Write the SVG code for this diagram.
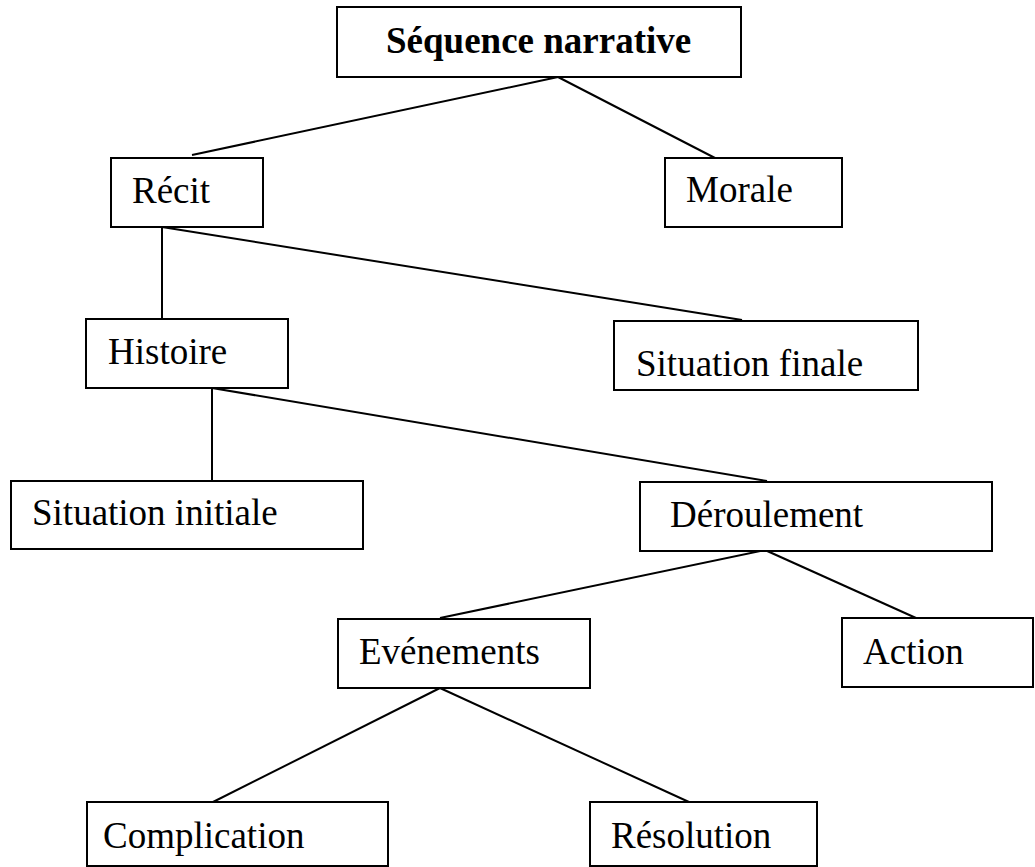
<svg xmlns="http://www.w3.org/2000/svg" width="1035" height="867" viewBox="0 0 1035 867">
<style>
.box{fill:#fff;stroke:#000;stroke-width:2}
.lbl{font-family:"Liberation Serif","Times New Roman",serif;font-size:37px;fill:#000}
.bold{font-weight:bold}
.con line{stroke:#000;stroke-width:2}
</style>
<rect width="1035" height="867" fill="#fff"/>
<g class="con" id="connectors">
<line x1="558" y1="77" x2="192" y2="155"/>
<line x1="558" y1="77" x2="715" y2="158"/>
<line x1="162" y1="227" x2="162" y2="319"/>
<line x1="162" y1="227" x2="742" y2="320"/>
<line x1="212" y1="388" x2="212" y2="481"/>
<line x1="212" y1="388" x2="767" y2="481"/>
<line x1="765" y1="550" x2="440" y2="618"/>
<line x1="765" y1="550" x2="916" y2="618"/>
<line x1="440" y1="688" x2="213" y2="802"/>
<line x1="440" y1="688" x2="689" y2="802"/>
</g>
<g id="sequence"><rect class="box" x="337" y="7" width="404" height="70"/><text class="lbl bold" x="386" y="53">Séquence narrative</text></g>
<g id="recit"><rect class="box" x="111" y="158" width="152" height="69"/><text class="lbl" x="132" y="203">Récit</text></g>
<g id="morale"><rect class="box" x="665" y="158" width="177" height="69"/><text class="lbl" x="686" y="202">Morale</text></g>
<g id="histoire"><rect class="box" x="86" y="319" width="202" height="69"/><text class="lbl" x="108" y="364">Histoire</text></g>
<g id="situation-finale"><rect class="box" x="614" y="321" width="304" height="69"/><text class="lbl" x="636" y="376">Situation finale</text></g>
<g id="situation-initiale"><rect class="box" x="11" y="481" width="352" height="68"/><text class="lbl" x="32" y="525">Situation initiale</text></g>
<g id="deroulement"><rect class="box" x="640" y="482" width="352" height="69"/><text class="lbl" x="670" y="527">Déroulement</text></g>
<g id="evenements"><rect class="box" x="338" y="619" width="252" height="69"/><text class="lbl" x="359" y="664">Evénements</text></g>
<g id="action"><rect class="box" x="842" y="618" width="191" height="69"/><text class="lbl" x="863" y="664">Action</text></g>
<g id="complication"><rect class="box" x="87" y="802" width="301" height="64"/><text class="lbl" x="103" y="848">Complication</text></g>
<g id="resolution"><rect class="box" x="590" y="802" width="227" height="64"/><text class="lbl" x="611" y="848">Résolution</text></g>
</svg>
